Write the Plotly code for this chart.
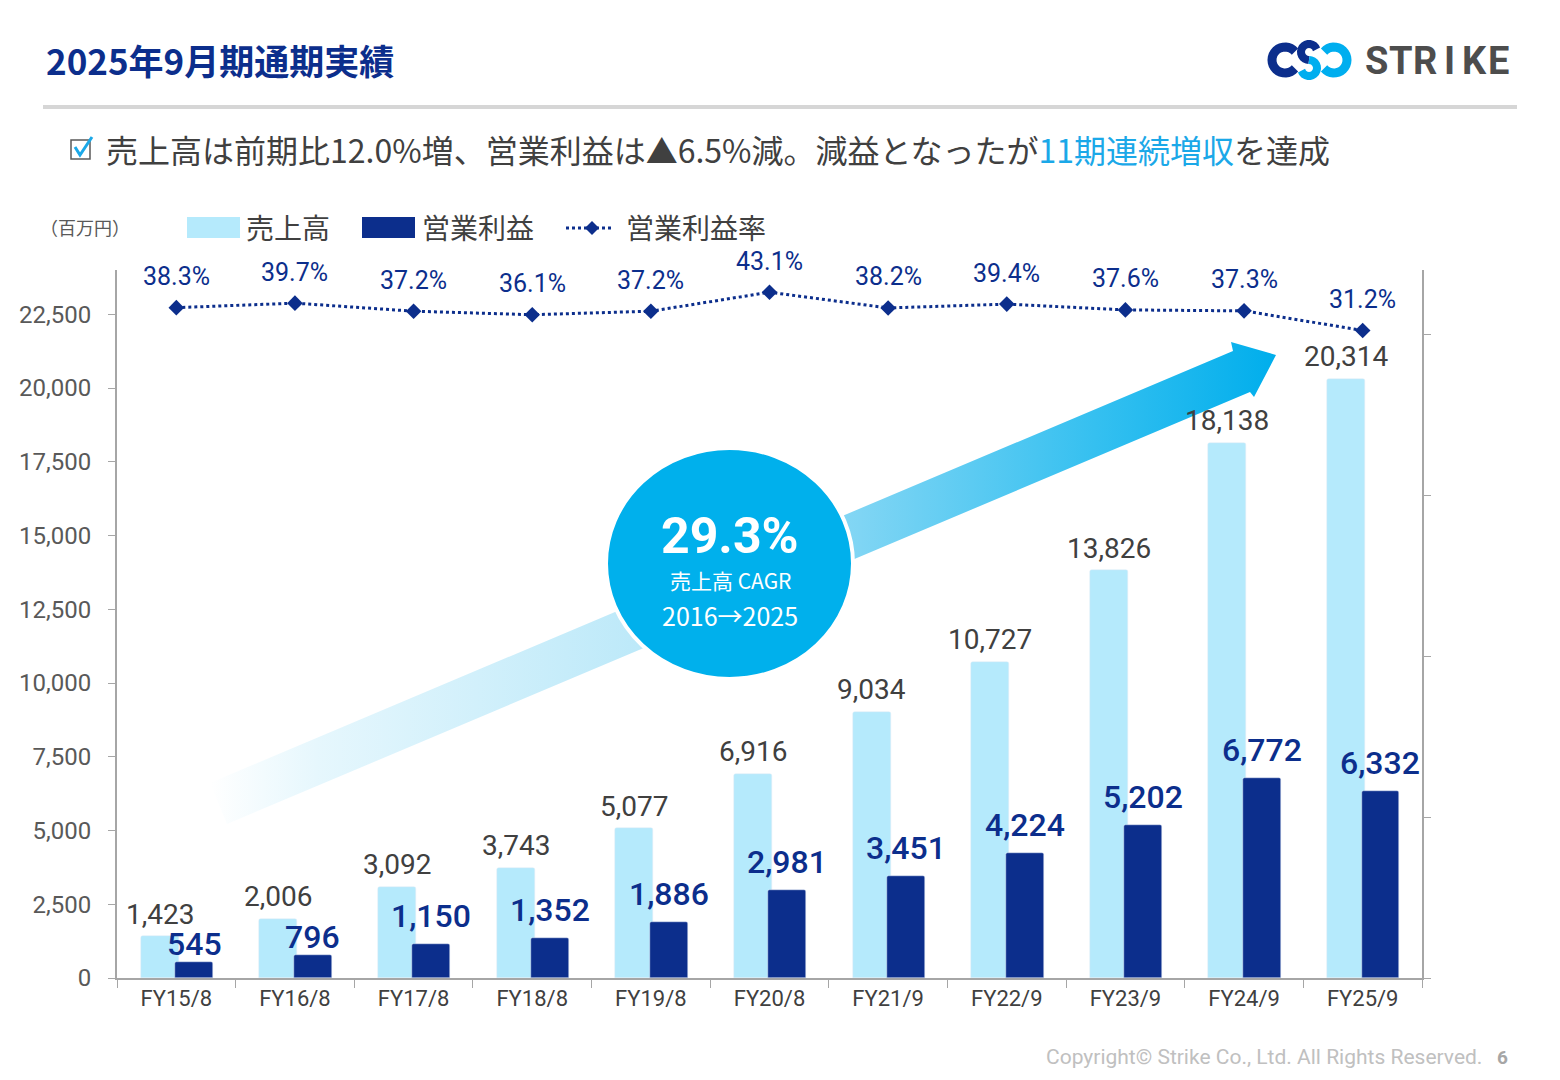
import math
import plotly.graph_objects as go

# data (million yen)
categories = ["FY15/8", "FY16/8", "FY17/8", "FY18/8", "FY19/8", "FY20/8",
              "FY21/9", "FY22/9", "FY23/9", "FY24/9", "FY25/9"]
sales = [1423, 2006, 3092, 3743, 5077, 6916, 9034, 10727, 13826, 18138, 20314]
op_profit = [545, 796, 1150, 1352, 1886, 2981, 3451, 4224, 5202, 6772, 6332]
op_margin = [38.3, 39.7, 37.2, 36.1, 37.2, 43.1, 38.2, 39.4, 37.6, 37.3, 31.2]
left_ticks = [0, 2500, 5000, 7500, 10000, 12500, 15000, 17500, 20000, 22500]

# colours
LIGHT = "#b5eafc"
DARK = "#0c2e8c"
CYAN = "#00b0ec"
GRAY_TXT = "#404040"
AXIS = "#a6a6a6"

# plot area in screen pixels (page body adds an 8px margin)
W, H = 1560, 1080
OFF = 8
L, R, T, B = 117, 1422, 270, 978
CAT_PX = (R - L) / len(categories)
BAR_W = 0.32
SALES_OFF = -0.30
OP_OFF = -0.01
# small labels were nudged down in the original to clear the sales labels
op_label_lift = {"FY15/8": 18, "FY16/8": 18}

JP = "Noto Sans CJK JP"
NUM = "Roboto"


def px(x):
    return (x - L) / (R - L)


def py(y):
    return (B - y) / (B - T)


def arc_path(cx, cy, r, a0, a1, n=24):
    # polyline arc in screen pixels -> paper coords (shape paths can't use "A")
    pts = []
    for i in range(n + 1):
        a = math.radians(a0 + (a1 - a0) * i / n)
        pts.append((px(cx + r * math.cos(a)), py(cy - r * math.sin(a))))
    return "M " + " L ".join(f"{x:.5f} {y:.5f}" for x, y in pts)


fig = go.Figure()

# gradient arrow behind everything (drawn on a hidden pixel-space axis pair)
arrow_x = [210, 1233, 1231, 1276, 1254, 1250, 227, 210]
arrow_y = [783, 351, 342, 355, 397, 392, 824, 783]
fig.add_trace(go.Scatter(
    x=arrow_x, y=arrow_y, xaxis="x2", yaxis="y3", mode="lines",
    line=dict(width=0), fill="toself", hoverinfo="skip", showlegend=False,
    fillgradient=dict(type="horizontal", colorscale=[
        [0.0, "rgba(255,255,255,1)"], [0.1, "#e6f7fd"], [0.4, "#bde9f9"],
        [0.61, "#7fd5f4"], [0.83, "#35c0f0"], [1.0, "#00aeec"]]),
))

fig.add_trace(go.Bar(
    x=categories, y=sales, name="売上高", marker=dict(color=LIGHT, cornerradius=2),
    width=BAR_W, offset=SALES_OFF, showlegend=False,
))
fig.add_trace(go.Bar(
    x=categories, y=op_profit, name="営業利益", marker=dict(color=DARK, cornerradius=2),
    width=BAR_W, offset=OP_OFF, showlegend=False,
))
fig.add_trace(go.Scatter(
    x=categories, y=op_margin, name="営業利益率", yaxis="y2", mode="lines+markers",
    line=dict(color=DARK, width=3, dash="dot"),
    marker=dict(symbol="diamond", size=12, color=DARK), showlegend=False,
))

ann = []
sales_shift = (SALES_OFF + BAR_W / 2) * CAT_PX
op_shift = (OP_OFF + BAR_W / 2) * CAT_PX
for c, v in zip(categories, sales):
    ann.append(dict(x=c, y=v, xref="x", yref="y", text=f"{v:,}", showarrow=False,
                    xshift=sales_shift, yshift=22, yanchor="middle",
                    font=dict(family=NUM, size=28, color=GRAY_TXT)))
for c, v in zip(categories, op_profit):
    ann.append(dict(x=c, y=v, xref="x", yref="y", text=f"{v:,}", showarrow=False,
                    xshift=op_shift, yshift=op_label_lift.get(c, 28), yanchor="middle",
                    font=dict(family=NUM, size=32, color=DARK, weight=500)))
for c, v in zip(categories, op_margin):
    ann.append(dict(x=c, y=v, xref="x", yref="y2", text=f"{v:.1f}%", showarrow=False,
                    yshift=31, yanchor="middle",
                    font=dict(family=NUM, size=25, color=DARK)))


def txt(x, y, s, size, color, anchor="left", family=JP, weight=None):
    f = dict(family=family, size=size, color=color)
    if weight:
        f["weight"] = weight
    ann.append(dict(x=px(x), y=py(y), xref="paper", yref="paper", text=s,
                    showarrow=False, xanchor=anchor, yanchor="middle", font=f))


# header
txt(44, 60, "2025年9月期通期実績", 35, DARK, weight=700)
for i, ch in enumerate("STRIKE"):
    txt(1376 + i * 24.5, 61, ch, 38, "#4d4d4d", anchor="center", family=NUM, weight=700)
txt(104, 149, "売上高は前期比12.0%増、営業利益は▲6.5%減。減益となったが"
    "<span style='color:#1ba8e8'>11期連続増収</span>を達成", 32, GRAY_TXT)

# legend
txt(85, 227, "（百万円）", 18, "#595959", anchor="center")
txt(244, 227, "売上高", 28, GRAY_TXT)
txt(420, 227, "営業利益", 28, GRAY_TXT)
txt(624, 227, "営業利益率", 28, GRAY_TXT)

# circle texts
txt(730, 536, "29.3%", 50, "white", anchor="center", family=NUM, weight=700)
txt(730, 580, "売上高 CAGR", 21, "white", anchor="center")
txt(730, 615, "2016→2025", 25, "white", anchor="center")

# footer
txt(1484, 1057, "Copyright© Strike Co., Ltd. All Rights Reserved.", 21, "#c0c0c0",
    anchor="right", family=NUM)
txt(1503, 1057, "6", 19, "#a6a6a6", anchor="center", family=NUM, weight=700)

shapes = [
    # separator line under header
    dict(type="line", xref="paper", yref="paper", x0=px(43), x1=px(1517),
         y0=py(107), y1=py(107), line=dict(color="#d6d6d6", width=4)),
    # checkbox
    dict(type="rect", xref="paper", yref="paper", x0=px(71), x1=px(90),
         y0=py(140), y1=py(159), line=dict(color="#595959", width=1.5)),
    dict(type="path", xref="paper", yref="paper",
         path=f"M {px(75)} {py(147)} L {px(80)} {py(155)} L {px(92)} {py(137)}",
         line=dict(color="#1ba8e8", width=3)),
    # legend swatches
    dict(type="rect", xref="paper", yref="paper", x0=px(187), x1=px(240),
         y0=py(238), y1=py(217), fillcolor=LIGHT, line=dict(width=0)),
    dict(type="rect", xref="paper", yref="paper", x0=px(362), x1=px(415),
         y0=py(238), y1=py(217), fillcolor=DARK, line=dict(width=0)),
    dict(type="line", xref="paper", yref="paper", x0=px(566), x1=px(613),
         y0=py(228), y1=py(228), line=dict(color=DARK, width=3, dash="dot")),
    dict(type="path", xref="paper", yref="paper",
         path=f"M {px(585)} {py(228)} L {px(592)} {py(221)} L {px(599)} {py(228)} "
              f"L {px(592)} {py(235)} Z",
         fillcolor=DARK, line=dict(width=0)),
    # CAGR circle
    dict(type="circle", xref="x2", yref="y3", x0=606, x1=853, y0=448, y1=679,
         fillcolor=CYAN, line=dict(color="white", width=4), layer="above"),
    # logo mark: dark "C", two-tone "S", cyan reversed "C"
    dict(type="path", xref="paper", yref="paper", path=arc_path(1285, 60, 13, 40, 320),
         line=dict(color=DARK, width=9)),
    dict(type="path", xref="paper", yref="paper", path=arc_path(1309, 52, 8, 20, 270, 16),
         line=dict(color=DARK, width=8)),
    dict(type="path", xref="paper", yref="paper", path=arc_path(1309, 68, 8, 90, -160, 16),
         line=dict(color="#00aeef", width=8)),
    dict(type="path", xref="paper", yref="paper", path=arc_path(1334, 60, 13, 140, -140),
         line=dict(color="#00aeef", width=9)),
]

fig.update_layout(
    width=W, height=H, plot_bgcolor="white", paper_bgcolor="white",
    margin=dict(l=L - OFF, r=W - R + OFF, t=T - OFF, b=H - B + OFF, pad=0),
    barmode="overlay", bargap=0, annotations=ann, shapes=shapes,
    font=dict(family=NUM, color=GRAY_TXT),
    xaxis=dict(type="category", showline=True, linecolor=AXIS, linewidth=2,
               ticks="outside", tickson="boundaries", ticklen=8, tickcolor=AXIS,
               tickfont=dict(family=NUM, size=22, color=GRAY_TXT), showgrid=False,
               range=[-0.5, len(categories) - 0.5]),
    yaxis=dict(range=[0, 24000], tickvals=left_ticks, tickformat=",", showline=True,
               linecolor=AXIS, linewidth=2, ticks="outside", ticklen=7, tickcolor=AXIS,
               tickfont=dict(family=NUM, size=24, color="#595959"), showgrid=False,
               zeroline=False, ticklabelstandoff=12),
    yaxis2=dict(range=[-170, 50], overlaying="y", side="right", tick0=-170, dtick=50,
                showticklabels=False, showline=True, linecolor=AXIS, linewidth=2,
                ticks="outside", ticklen=7, tickcolor=AXIS, showgrid=False,
                zeroline=False),
    xaxis2=dict(range=[L, R], overlaying="x", visible=False),
    yaxis3=dict(range=[B, T], overlaying="y", visible=False),
)

fig.write_html("out.html")
